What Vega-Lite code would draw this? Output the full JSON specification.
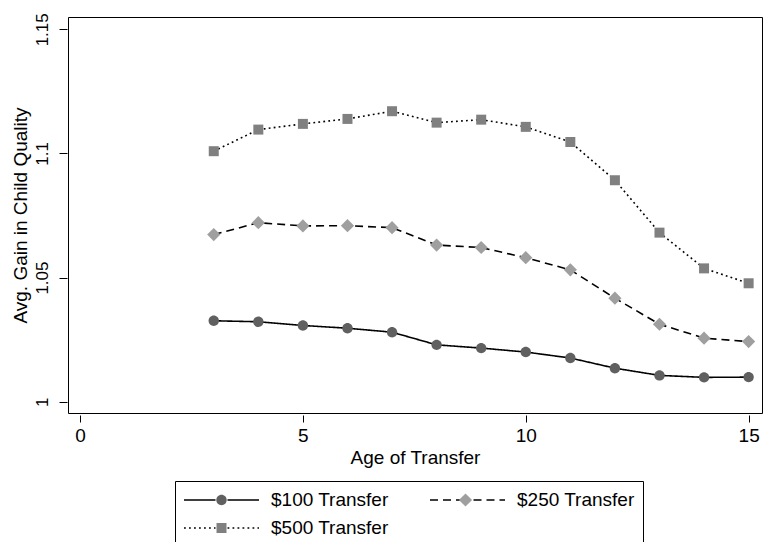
{
  "$schema": "https://vega.github.io/schema/vega-lite/v6.json",
  "width": 694,
  "height": 396,
  "autosize": {"type": "none"},
  "padding": {"left": 68, "top": 17, "right": 4, "bottom": 129},
  "background": "white",
  "data": {
    "values": [
      {"age": 3, "series": "$100 Transfer", "gain": 1.0326},
      {"age": 4, "series": "$100 Transfer", "gain": 1.0322},
      {"age": 5, "series": "$100 Transfer", "gain": 1.0307},
      {"age": 6, "series": "$100 Transfer", "gain": 1.0296},
      {"age": 7, "series": "$100 Transfer", "gain": 1.0280},
      {"age": 8, "series": "$100 Transfer", "gain": 1.0229},
      {"age": 9, "series": "$100 Transfer", "gain": 1.0216},
      {"age": 10, "series": "$100 Transfer", "gain": 1.0200},
      {"age": 11, "series": "$100 Transfer", "gain": 1.0176},
      {"age": 12, "series": "$100 Transfer", "gain": 1.0135},
      {"age": 13, "series": "$100 Transfer", "gain": 1.0106},
      {"age": 14, "series": "$100 Transfer", "gain": 1.0098},
      {"age": 15, "series": "$100 Transfer", "gain": 1.0099},
      {"age": 3, "series": "$250 Transfer", "gain": 1.0673},
      {"age": 4, "series": "$250 Transfer", "gain": 1.0721},
      {"age": 5, "series": "$250 Transfer", "gain": 1.0708},
      {"age": 6, "series": "$250 Transfer", "gain": 1.0709},
      {"age": 7, "series": "$250 Transfer", "gain": 1.0701},
      {"age": 8, "series": "$250 Transfer", "gain": 1.0631},
      {"age": 9, "series": "$250 Transfer", "gain": 1.0621},
      {"age": 10, "series": "$250 Transfer", "gain": 1.0580},
      {"age": 11, "series": "$250 Transfer", "gain": 1.0531},
      {"age": 12, "series": "$250 Transfer", "gain": 1.0417},
      {"age": 13, "series": "$250 Transfer", "gain": 1.0312},
      {"age": 14, "series": "$250 Transfer", "gain": 1.0256},
      {"age": 15, "series": "$250 Transfer", "gain": 1.0242},
      {"age": 3, "series": "$500 Transfer", "gain": 1.1009},
      {"age": 4, "series": "$500 Transfer", "gain": 1.1096},
      {"age": 5, "series": "$500 Transfer", "gain": 1.1119},
      {"age": 6, "series": "$500 Transfer", "gain": 1.1139},
      {"age": 7, "series": "$500 Transfer", "gain": 1.1170},
      {"age": 8, "series": "$500 Transfer", "gain": 1.1124},
      {"age": 9, "series": "$500 Transfer", "gain": 1.1136},
      {"age": 10, "series": "$500 Transfer", "gain": 1.1107},
      {"age": 11, "series": "$500 Transfer", "gain": 1.1046},
      {"age": 12, "series": "$500 Transfer", "gain": 1.0892},
      {"age": 13, "series": "$500 Transfer", "gain": 1.0681},
      {"age": 14, "series": "$500 Transfer", "gain": 1.0537},
      {"age": 15, "series": "$500 Transfer", "gain": 1.0477}
    ]
  },
  "config": {
    "view": {"stroke": "black", "strokeWidth": 1},
    "font": "Liberation Sans",
    "axis": {
      "grid": false,
      "domain": false,
      "tickColor": "black",
      "tickWidth": 1,
      "labelColor": "black",
      "titleColor": "black",
      "labelFont": "Liberation Sans",
      "titleFont": "Liberation Sans",
      "titleFontWeight": "normal"
    }
  },
  "encoding": {
    "x": {
      "field": "age",
      "type": "quantitative",
      "scale": {"domain": [-0.27, 15.3], "nice": false, "zero": false},
      "axis": {
        "values": [0, 5, 10, 15],
        "title": "Age of Transfer",
        "tickSize": 7,
        "offset": 2,
        "labelFontSize": 19,
        "labelPadding": 4,
        "titleFontSize": 19,
        "titlePadding": 3
      }
    },
    "y": {
      "field": "gain",
      "type": "quantitative",
      "scale": {"domain": [0.99545, 1.15495], "nice": false, "zero": false},
      "axis": {
        "values": [1, 1.05, 1.1, 1.15],
        "format": ".2~f",
        "title": "Avg. Gain in Child Quality",
        "tickSize": 8,
        "offset": 1,
        "labelAngle": 270,
        "labelAlign": "center",
        "labelBaseline": "alphabetic",
        "labelPadding": 12,
        "labelFontSize": 17,
        "titleFontSize": 19,
        "titlePadding": 3
      }
    }
  },
  "layer": [
    {
      "mark": {"type": "line", "color": "black", "strokeWidth": 1.6},
      "encoding": {
        "strokeDash": {
          "field": "series",
          "type": "nominal",
          "scale": {
            "domain": ["$100 Transfer", "$250 Transfer", "$500 Transfer"],
            "range": [[1, 0], [8, 5], [1.8, 3.2]]
          },
          "legend": {
            "orient": "none",
            "legendX": 107,
            "legendY": 464,
            "direction": "horizontal",
            "columns": 2,
            "title": null,
            "symbolType": "M-3.75,0L-0.6,0M0.6,0L3.75,0",
            "symbolSize": 400,
            "symbolOffset": 27.5,
            "symbolStrokeColor": "black",
            "symbolStrokeWidth": 1.6,
            "labelOffset": 38.5,
            "labelFont": "Liberation Sans",
            "labelFontSize": 19,
            "labelColor": "black",
            "padding": 8,
            "rowPadding": 7,
            "columnPadding": 37,
            "strokeColor": "black"
          }
        }
      }
    },
    {
      "mark": {"type": "point", "filled": true, "size": 400, "opacity": 1},
      "encoding": {
        "shape": {
          "field": "series",
          "type": "nominal",
          "scale": {
            "range": [
              "M0.52,0A0.52,0.52,0,1,1,-0.52,0A0.52,0.52,0,1,1,0.52,0Z",
              "M0,-0.66L0.66,0L0,0.66L-0.66,0Z",
              "M-0.5,-0.5L0.5,-0.5L0.5,0.5L-0.5,0.5Z"
            ]
          },
          "legend": {
            "orient": "none",
            "legendX": 107,
            "legendY": 464,
            "direction": "horizontal",
            "columns": 2,
            "title": null,
            "symbolSize": 400,
            "symbolOffset": 27.5,
            "symbolStrokeWidth": 1.5,
            "symbolStrokeColor": "transparent",
            "labelOffset": 38.5,
            "labelExpr": "''",
            "labelFont": "Liberation Sans",
            "labelFontSize": 19,
            "labelOpacity": 0,
            "padding": 8,
            "rowPadding": 7,
            "columnPadding": 156
          }
        },
        "color": {
          "field": "series",
          "type": "nominal",
          "scale": {"range": ["#606060", "#9f9f9f", "#808080"]},
          "legend": {
            "orient": "none",
            "legendX": 107,
            "legendY": 464,
            "direction": "horizontal",
            "columns": 2,
            "title": null,
            "symbolSize": 400,
            "symbolOffset": 27.5,
            "symbolStrokeWidth": 1.5,
            "symbolStrokeColor": "transparent",
            "labelOffset": 38.5,
            "labelExpr": "''",
            "labelFont": "Liberation Sans",
            "labelFontSize": 19,
            "labelOpacity": 0,
            "padding": 8,
            "rowPadding": 7,
            "columnPadding": 156
          }
        }
      }
    }
  ]
}
